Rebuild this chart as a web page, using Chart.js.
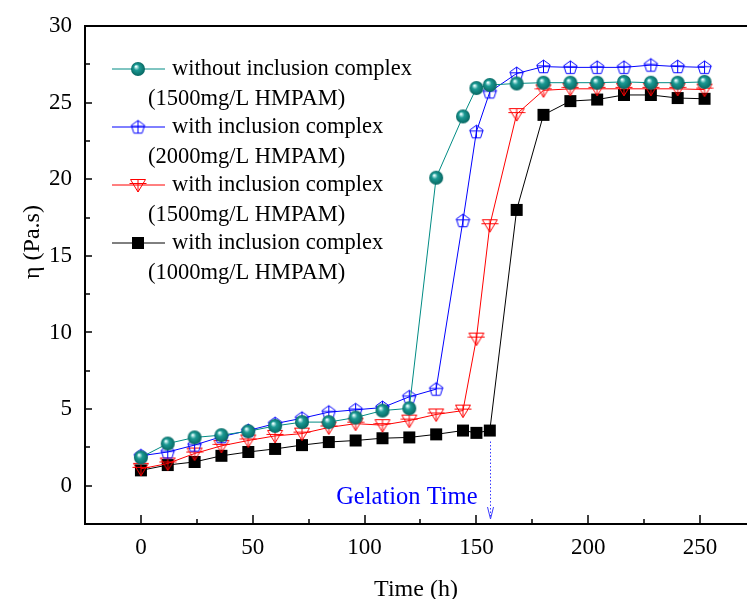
<!DOCTYPE html>
<html>
<head>
<meta charset="utf-8">
<script src="https://cdn.jsdelivr.net/npm/chart.js@4"></script>
<style>
html, body { margin: 0; padding: 0; background: #fff; }
#wrap { width: 747px; height: 599px; }
</style>
</head>
<body>
<div id="wrap"><canvas id="viscChart" width="747" height="599"></canvas></div>
<script>
// time points (h), shared by all four curves
const times = [0, 12, 24, 36, 48, 60, 72, 84, 96, 108, 120, 132, 144, 150, 156, 168, 180, 192, 204, 216, 228, 240, 252];
// viscosity (Pa.s)
const withoutIC1500 = [1.85, 2.75, 3.15, 3.3, 3.55, 3.9, 4.15, 4.15, 4.45, 4.9, 5.05, 20.1, 24.1, 25.95, 26.15, 26.25, 26.3, 26.3, 26.3, 26.35, 26.3, 26.3, 26.35];
const withIC2000 = [1.95, 2.2, 2.65, 3.2, 3.6, 4.05, 4.4, 4.8, 4.95, 5.1, 5.8, 6.3, 17.3, 23.1, 25.7, 26.9, 27.35, 27.3, 27.3, 27.3, 27.45, 27.35, 27.3];
const withIC1500 = [1.1, 1.45, 2.1, 2.6, 2.95, 3.25, 3.4, 3.8, 4.05, 3.95, 4.25, 4.65, 4.9, 9.6, 17.0, 24.25, 25.8, 25.9, 25.9, 25.9, 25.9, 25.9, 25.85];
const withIC1000 = [1.0, 1.35, 1.55, 1.95, 2.2, 2.4, 2.65, 2.85, 2.95, 3.1, 3.15, 3.35, 3.6, 3.45, 3.6, 18.0, 24.2, 25.1, 25.2, 25.5, 25.5, 25.3, 25.25];

const legendLine1 = ["without inclusion complex", "with inclusion complex", "with inclusion complex", "with inclusion complex"];
const legendLine2 = ["(1500mg/L HMPAM)", "(2000mg/L HMPAM)", "(1500mg/L HMPAM)", "(1000mg/L HMPAM)"];
const xTicks = [0, 50, 100, 150, 200, 250];
const yTicks = [0, 5, 10, 15, 20, 25, 30];
const gelationTime = 156;

const FONT = "'Liberation Serif', 'Times New Roman', serif";

// marker images
function makeCanvas(size) {
  const c = document.createElement("canvas");
  c.width = size; c.height = size;
  return c;
}
function sphere() {
  const c = makeCanvas(16), g = c.getContext("2d");
  const grd = g.createRadialGradient(6, 5.5, 0.5, 8, 8, 7.5);
  grd.addColorStop(0, "#e8ffff");
  grd.addColorStop(0.35, "#1c9a94");
  grd.addColorStop(1, "#05625d");
  g.fillStyle = grd;
  g.beginPath(); g.arc(8, 8, 7, 0, Math.PI * 2); g.fill();
  return c;
}
function pentagon() {
  const c = makeCanvas(17), g = c.getContext("2d");
  g.strokeStyle = "#0000ff"; g.lineWidth = 1;
  g.beginPath();
  for (let i = 0; i < 5; i++) {
    const a = -Math.PI / 2 + i * 2 * Math.PI / 5;
    const x = 8.5 + 7 * Math.cos(a), y = 9 + 7 * Math.sin(a);
    i ? g.lineTo(x, y) : g.moveTo(x, y);
  }
  g.closePath(); g.stroke();
  g.beginPath();
  g.moveTo(8.5, 2); g.lineTo(8.5, 14.7);
  g.moveTo(1.8, 7.8); g.lineTo(15.2, 7.8);
  g.stroke();
  return c;
}
function triangleDown() {
  const c = makeCanvas(18), g = c.getContext("2d");
  g.strokeStyle = "#ff0000"; g.lineWidth = 1;
  g.beginPath();
  g.moveTo(1.5, 3.5); g.lineTo(16.5, 3.5); g.lineTo(9, 16); g.closePath(); g.stroke();
  g.beginPath();
  g.moveTo(9, 3.5); g.lineTo(9, 16);
  g.moveTo(0.5, 7.5); g.lineTo(17.5, 7.5);
  g.stroke();
  return c;
}
function square() {
  const c = makeCanvas(14), g = c.getContext("2d");
  g.fillStyle = "#000";
  g.fillRect(1, 1, 12, 12);
  return c;
}

const markers = [sphere(), pentagon(), triangleDown(), square()];
const colors = ["#008b84", "#0000ff", "#ff0000", "#000000"];
const series = [withoutIC1500, withIC2000, withIC1500, withIC1000];

const datasets = series.map((vals, i) => ({
  label: legendLine1[i] + " " + legendLine2[i],
  data: times.map((t, k) => ({ x: t, y: vals[k] })),
  borderColor: colors[i],
  backgroundColor: colors[i],
  borderWidth: 1,
  tension: 0,
  pointStyle: markers[i],
  pointRadius: 7,
  pointHoverRadius: 7
}));

// frame, inward ticks, legend, y title and gelation arrow
const extras = {
  id: "extras",
  afterDraw(chart) {
    const ctx = chart.ctx, a = chart.chartArea;
    const xs = chart.scales.x, ys = chart.scales.y;
    ctx.save();
    ctx.strokeStyle = "#000";
    ctx.lineWidth = 2;
    ctx.beginPath();
    ctx.moveTo(a.left, a.top); ctx.lineTo(a.right, a.top);
    ctx.stroke();

    ctx.lineWidth = 1.5;
    ctx.beginPath();
    xTicks.forEach(v => {
      const p = Math.round(xs.getPixelForValue(v));
      ctx.moveTo(p, a.bottom); ctx.lineTo(p, a.bottom - 9);
      const m = Math.round(xs.getPixelForValue(v + 25));
      if (m < a.right) { ctx.moveTo(m, a.bottom); ctx.lineTo(m, a.bottom - 5); }
    });
    yTicks.forEach(v => {
      const p = Math.round(ys.getPixelForValue(v));
      ctx.moveTo(a.left, p); ctx.lineTo(a.left + 7, p);
      const m = Math.round(ys.getPixelForValue(v - 2.5));
      ctx.moveTo(a.left, m); ctx.lineTo(a.left + 5, m);
    });
    ctx.stroke();

    // y title
    ctx.fillStyle = "#000";
    ctx.font = "24px " + FONT;
    ctx.textAlign = "center";
    ctx.textBaseline = "middle";
    ctx.translate(33, 242);
    ctx.rotate(-Math.PI / 2);
    ctx.fillText("η (Pa.s)", 0, 0);
    ctx.restore();

    // legend
    ctx.save();
    ctx.font = "22.5px " + FONT;
    ctx.textBaseline = "middle";
    ctx.textAlign = "left";
    ctx.fillStyle = "#000";
    chart.data.datasets.forEach((ds, i) => {
      const y = 69 + i * 58;
      ctx.strokeStyle = ds.borderColor;
      ctx.lineWidth = 1;
      ctx.beginPath(); ctx.moveTo(112, y); ctx.lineTo(165, y); ctx.stroke();
      const img = ds.pointStyle;
      ctx.drawImage(img, 138 - img.width / 2, y - img.height / 2);
      ctx.fillText(legendLine1[i], 172, y);
      ctx.fillText(legendLine2[i], 148, y + 30);
    });
    ctx.restore();

    // gelation time marker
    ctx.save();
    const gx = Math.round(xs.getPixelForValue(gelationTime)) + 0.5;
    ctx.strokeStyle = "#3a3aff";
    ctx.lineWidth = 1;
    ctx.setLineDash([1.5, 2]);
    ctx.beginPath(); ctx.moveTo(gx, ys.getPixelForValue(3.6) + 11); ctx.lineTo(gx, a.bottom - 5); ctx.stroke();
    ctx.setLineDash([]);
    ctx.beginPath();
    ctx.moveTo(gx - 3, a.bottom - 17); ctx.lineTo(gx, a.bottom - 5); ctx.lineTo(gx + 3, a.bottom - 17);
    ctx.stroke();
    ctx.fillStyle = "#0000ff";
    ctx.font = "24.5px " + FONT;
    ctx.textAlign = "right";
    ctx.textBaseline = "alphabetic";
    ctx.fillText("Gelation Time", gx - 13, ys.getPixelForValue(0) + 18);
    ctx.restore();
  }
};

new Chart(document.getElementById("viscChart").getContext("2d"), {
  type: "line",
  data: { datasets },
  options: {
    responsive: false,
    animation: false,
    layout: { autoPadding: false, padding: { top: 26, right: 0, left: 0, bottom: 0 } },
    plugins: { legend: { display: false }, tooltip: { enabled: false } },
    scales: {
      x: {
        type: "linear",
        min: -25,
        max: 271,
        grid: { display: false },
        border: { color: "#000", width: 2 },
        ticks: { color: "#000", font: { family: FONT, size: 23 }, padding: 2 },
        afterBuildTicks: s => { s.ticks = xTicks.map(v => ({ value: v })); },
        afterFit: s => { s.height = 75; s.paddingRight = 0; s.paddingLeft = 0; },
        title: { display: true, text: "Time (h)", color: "#000", font: { family: FONT, size: 24 }, padding: { top: 0, bottom: -5 } }
      },
      y: {
        min: -2.5,
        max: 30,
        grid: { display: false },
        border: { color: "#000", width: 2 },
        ticks: { color: "#000", font: { family: FONT, size: 23 }, padding: 5 },
        afterBuildTicks: s => { s.ticks = yTicks.map(v => ({ value: v })); },
        afterFit: s => { s.width = 85; s.paddingTop = 0; s.paddingBottom = 0; }
      }
    }
  },
  plugins: [extras]
});
</script>
</body>
</html>
